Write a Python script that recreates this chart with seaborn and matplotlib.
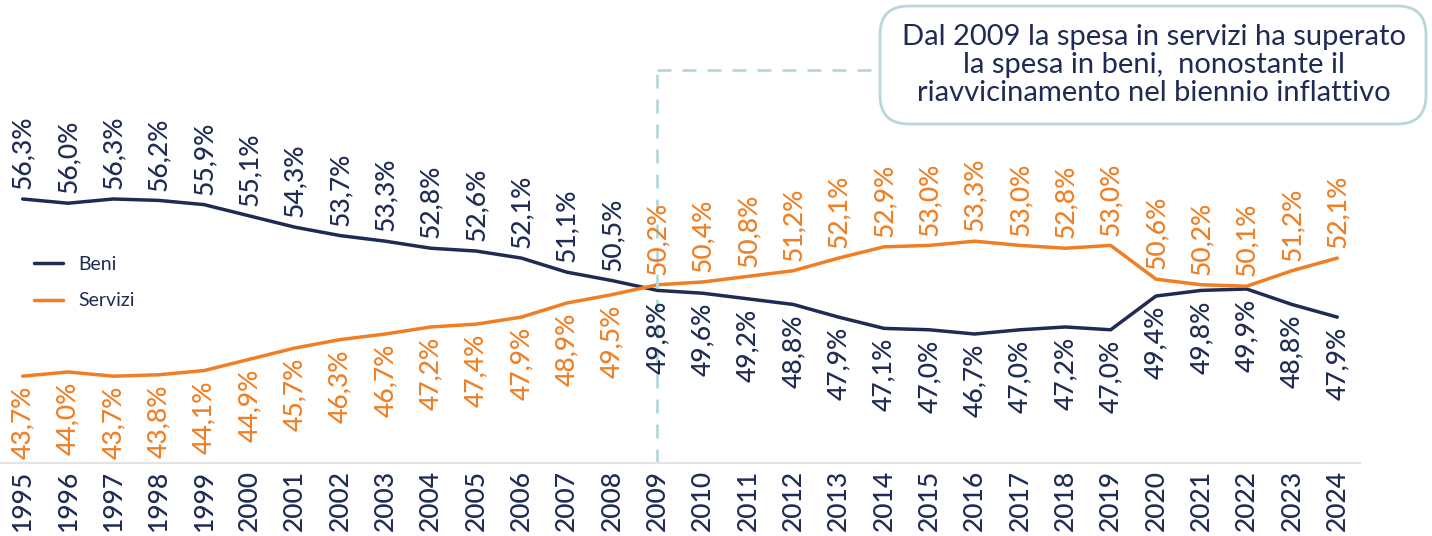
import pandas as pd
import matplotlib
matplotlib.use('Agg')
import matplotlib.pyplot as plt
from matplotlib.patches import FancyBboxPatch
import seaborn as sns

years = list(range(1995, 2025))
beni = [56.3, 56.0, 56.3, 56.2, 55.9, 55.1, 54.3, 53.7, 53.3, 52.8, 52.6, 52.1, 51.1, 50.5,
        49.8, 49.6, 49.2, 48.8, 47.9, 47.1, 47.0, 46.7, 47.0, 47.2, 47.0, 49.4, 49.8, 49.9, 48.8, 47.9]
servizi = [43.7, 44.0, 43.7, 43.8, 44.1, 44.9, 45.7, 46.3, 46.7, 47.2, 47.4, 47.9, 48.9, 49.5,
           50.2, 50.4, 50.8, 51.2, 52.1, 52.9, 53.0, 53.3, 53.0, 52.8, 53.0, 50.6, 50.2, 50.1, 51.2, 52.1]
series_names = ['Beni', 'Servizi']
note = 'Dal 2009 la spesa in servizi ha superato\nla spesa in beni,  nonostante il\nriavvicinamento nel biennio inflattivo'

navy = '#1f2b53'
orange = '#f07f24'
teal = '#b7d7db'

sns.set_theme(style='white')
plt.rcParams['font.family'] = ['Lato', 'DejaVu Sans']

df = pd.DataFrame({'anno': years * 2,
                   'quota': beni + servizi,
                   'serie': [series_names[0]] * len(years) + [series_names[1]] * len(years)})

fig = plt.figure(figsize=(14.32, 5.36), dpi=100)
ax = fig.add_axes([0.0, 0.136, 0.9497, 0.864])
sns.lineplot(data=df, x='anno', y='quota', hue='serie', palette=[navy, orange],
             linewidth=2.5, ax=ax)
ax.set_xlim(1994.5, 2024.5)
ax.set_ylim(37.52, 70.45)

# etichette valori
for yr, b, s in zip(years, beni, servizi):
    b_up = yr < 2009
    ax.annotate(f'{b:.1f}%'.replace('.', ','), (yr, b), xytext=(0, 7 if b_up else -7),
                textcoords='offset points', rotation=90, ha='center',
                va='bottom' if b_up else 'top', color=navy, fontsize=19, fontweight='medium')
    ax.annotate(f'{s:.1f}%'.replace('.', ','), (yr, s), xytext=(0, -7 if b_up else 7),
                textcoords='offset points', rotation=90, ha='center',
                va='top' if b_up else 'bottom', color=orange, fontsize=19, fontweight='medium')

ax.set_xticks(years)
ax.set_xticklabels([str(y) for y in years], rotation=90, fontsize=19, color=navy,
                   fontweight='medium')
ax.tick_params(axis='x', length=0, pad=5)
ax.set_yticks([])
ax.set_xlabel('')
ax.set_ylabel('')
for side in ['top', 'right', 'left']:
    ax.spines[side].set_visible(False)
ax.spines['bottom'].set_color('#e3e3e3')
ax.spines['bottom'].set_linewidth(1.5)

leg = ax.legend(loc='upper left', bbox_to_anchor=(0.012, 0.485), frameon=False,
                fontsize=14, handlelength=1.5, handletextpad=0.8, labelspacing=1.0)
for t in leg.get_texts():
    t.set_color(navy)

# linea tratteggiata e riquadro
y_top = 37.52 + (463 - 70) / 14.06
ax.plot([2009, 2009], [37.52, y_top], color=teal, lw=2, ls=(0, (5, 4)), clip_on=False)
x_box = 1994.5 + 878 / 45.33
ax.plot([2009, x_box], [y_top, y_top], color=teal, lw=2, ls=(0, (5, 4)), clip_on=False)

W, H = 1432, 536
box = FancyBboxPatch((880 / W, (536 - 124) / H), 546 / W, 118 / H,
                     boxstyle='round,pad=0,rounding_size=0.02', transform=fig.transFigure,
                     facecolor='white', edgecolor=teal, lw=2, mutation_aspect=W / H)
fig.patches.append(box)
fig.text(1154 / W, (536 - 65) / H, note, ha='center', va='center', fontsize=21,
         color=navy, linespacing=1.1)

fig.savefig('out.png', dpi=100)
